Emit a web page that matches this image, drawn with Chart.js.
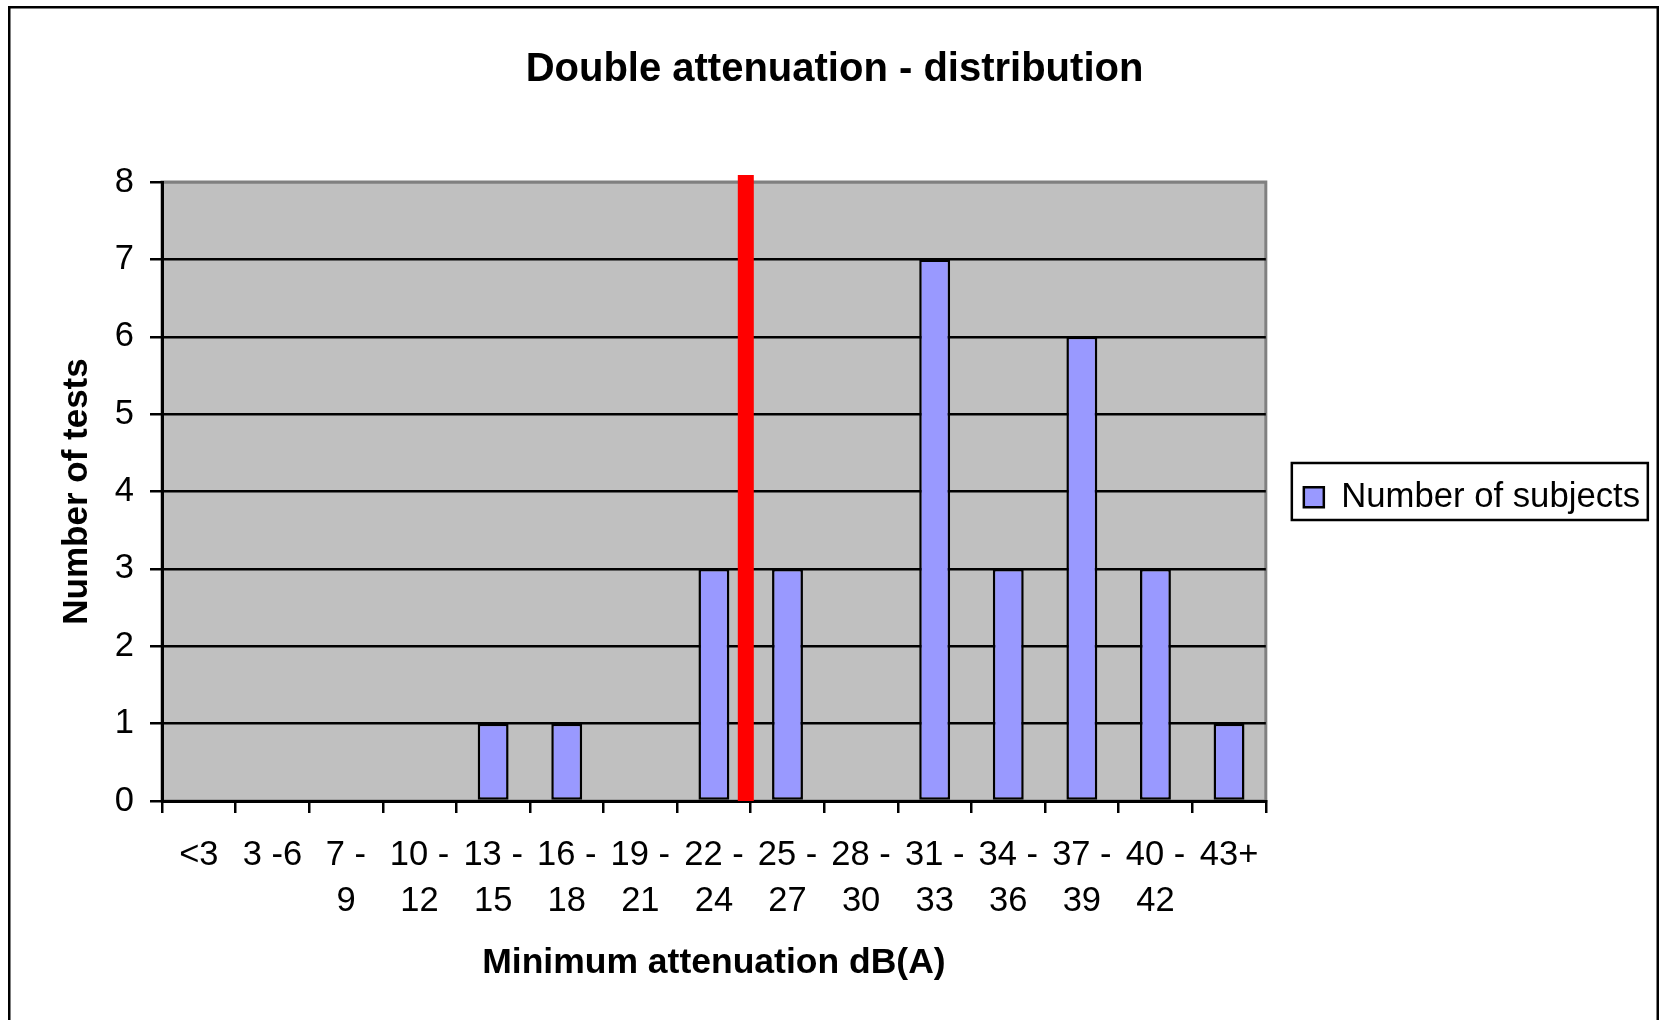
<!DOCTYPE html>
<html>
<head>
<meta charset="utf-8">
<title>Double attenuation - distribution</title>
<script src="https://cdn.jsdelivr.net/npm/chart.js@4"></script>
<style>
  html, body { margin: 0; padding: 0; background: #fff; }
  canvas { display: block; }
</style>
</head>
<body>
<canvas id="chart" width="1659" height="1020"></canvas>
<script>
// Attenuation bins (dB(A)); multi-line labels wrap as in the printed chart
const binLabels = [
  ['<3'], ['3 -6'], ['7 -', '9'], ['10 -', '12'], ['13 -', '15'], ['16 -', '18'],
  ['19 -', '21'], ['22 -', '24'], ['25 -', '27'], ['28 -', '30'], ['31 -', '33'],
  ['34 -', '36'], ['37 -', '39'], ['40 -', '42'], ['43+']
];
// Number of subjects in each bin
const subjectCounts = [0, 0, 0, 0, 1, 1, 0, 3, 3, 0, 7, 3, 6, 3, 1];
// Y axis ticks
const yTickValues = [0, 1, 2, 3, 4, 5, 6, 7, 8];
// Reference attenuation marked by the red line (dB(A)), and the dB span of the bin axis
const referenceDb = 24.93;
const dbAxisRange = [1, 46];
const referenceLine = [{ x: referenceDb, y: 0 }, { x: referenceDb, y: 8.09 }];

const FONT = "'Liberation Sans', Arial, Helvetica, sans-serif";

// Page frame, plot background and plot border
const backdrop = {
  id: 'backdrop',
  beforeDraw(chart) {
    const { ctx, chartArea: a } = chart;
    ctx.save();
    ctx.fillStyle = '#ffffff';
    ctx.fillRect(0, 0, chart.width, chart.height);
    ctx.strokeStyle = '#000';
    ctx.lineWidth = 2.5;
    ctx.strokeRect(9.25, 7.25, chart.width - 10.5, chart.height + 20);
    ctx.fillStyle = '#c0c0c0';
    ctx.fillRect(a.left, a.top, a.right - a.left, a.bottom - a.top);
    ctx.strokeStyle = '#808080';
    ctx.lineWidth = 3;
    ctx.strokeRect(a.left, a.top, a.right - a.left, a.bottom - a.top);
    ctx.restore();
  }
};

// Frame around the legend entry
const legendFrame = {
  id: 'legendFrame',
  afterDraw(chart) {
    const { ctx, chartArea: a } = chart;
    const cy = (a.top + a.bottom) / 2;
    ctx.save();
    ctx.strokeStyle = '#000';
    ctx.lineWidth = 2.5;
    ctx.strokeRect(a.right + 26, cy - 28.5, 356, 57);
    ctx.restore();
  }
};

new Chart(document.getElementById('chart'), {
  type: 'bar',
  data: {
    labels: binLabels,
    datasets: [
      {
        type: 'bar',
        label: 'Number of subjects',
        data: subjectCounts,
        xAxisID: 'x',
        grouped: false,
        backgroundColor: '#9999ff',
        borderColor: '#000000',
        borderWidth: 2.5,
        borderSkipped: false,
        barPercentage: 0.42,
        categoryPercentage: 1.0
      },
      {
        type: 'line',
        label: 'reference',
        data: referenceLine,
        xAxisID: 'xDb',
        borderColor: '#ff0000',
        borderWidth: 16,
        borderCapStyle: 'butt',
        pointRadius: 0,
        fill: false,
        clip: false
      }
    ]
  },
  options: {
    responsive: false,
    animation: false,
    devicePixelRatio: 1,
    layout: { padding: { left: 19, right: 9, top: 0, bottom: 35 } },
    plugins: {
      tooltip: { enabled: false },
      title: {
        display: true,
        text: 'Double attenuation - distribution',
        color: '#000',
        font: { family: FONT, size: 40, weight: 'bold', lineHeight: 1.2 },
        padding: { top: 45.5, bottom: 88.5 }
      },
      legend: {
        display: true,
        position: 'right',
        align: 'center',
        maxWidth: 393,
        title: {
          display: true,
          text: ' ',
          padding: 0,
          font: { family: FONT, size: 8, lineHeight: 1.2 }
        },
        labels: {
          color: '#000',
          font: { family: FONT, size: 34.7 },
          boxWidth: 20,
          boxHeight: 20,
          padding: 38,
          filter: item => item.datasetIndex === 0
        }
      }
    },
    scales: {
      x: {
        type: 'category',
        position: 'bottom',
        offset: true,
        afterFit(scale) { scale.height = 184; },
        grid: {
          offset: true,
          drawOnChartArea: false,
          drawTicks: true,
          tickLength: 12,
          color: '#000',
          lineWidth: 2.5
        },
        border: { display: true, color: '#000', width: 3 },
        ticks: {
          color: '#000',
          font: { family: FONT, size: 34.5, lineHeight: 1.35 },
          padding: 19,
          maxRotation: 0,
          minRotation: 0,
          autoSkip: false
        },
        title: {
          display: true,
          text: 'Minimum attenuation dB(A)',
          color: '#000',
          font: { family: FONT, size: 35.5, weight: 'bold', lineHeight: 1.2 },
          padding: 0
        }
      },
      xDb: {
        type: 'linear',
        display: false,
        min: dbAxisRange[0],
        max: dbAxisRange[1]
      },
      y: {
        type: 'linear',
        position: 'left',
        min: yTickValues[0],
        max: yTickValues[yTickValues.length - 1],
        afterFit(scale) { scale.width = 143; },
        afterBuildTicks(scale) { scale.ticks = yTickValues.map(v => ({ value: v })); },
        grid: {
          color: ctx => (ctx.tick && ctx.tick.value === 8 ? '#808080' : '#000'),
          lineWidth: 2.5,
          drawTicks: true,
          tickLength: 12,
          tickColor: '#000',
          tickWidth: 2.5
        },
        border: { display: true, color: '#000', width: 3 },
        ticks: {
          color: '#000',
          font: { family: FONT, size: 34.5 },
          padding: 16
        },
        title: {
          display: true,
          text: 'Number of tests',
          color: '#000',
          font: { family: FONT, size: 35, weight: 'bold', lineHeight: 1.2 },
          padding: { top: 37, bottom: 0 }
        }
      }
    }
  },
  plugins: [backdrop, legendFrame]
});
</script>
</body>
</html>
